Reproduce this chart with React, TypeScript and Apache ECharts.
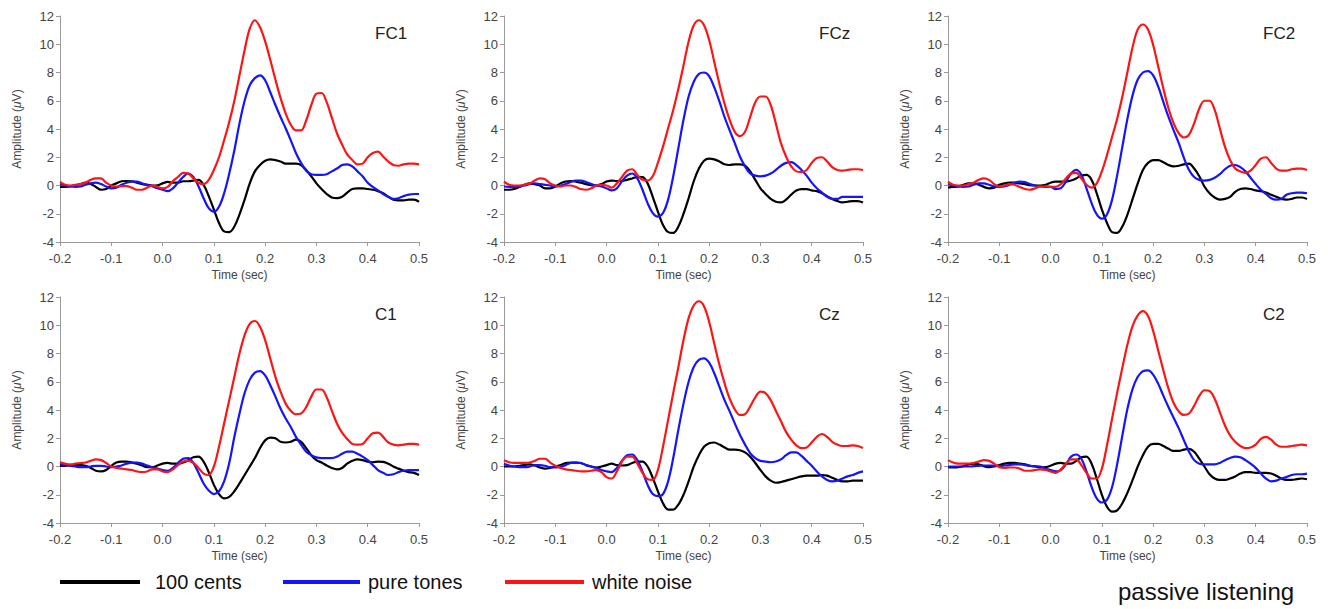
import React, { useEffect, useRef } from "react";
import * as echarts from "echarts";

// time samples (sec)
const timePoints = [
  -0.2, -0.19, -0.18, -0.17, -0.16, -0.15, -0.14, -0.13, -0.12, -0.11,
  -0.1, -0.09, -0.08, -0.07, -0.06, -0.05, -0.04, -0.03, -0.02, -0.01,
  0.0, 0.01, 0.02, 0.03, 0.04, 0.05, 0.06, 0.07, 0.08, 0.09,
  0.1, 0.11, 0.12, 0.13, 0.14, 0.15, 0.16, 0.17, 0.18, 0.19,
  0.2, 0.21, 0.22, 0.23, 0.24, 0.25, 0.26, 0.27, 0.28, 0.29,
  0.3, 0.31, 0.32, 0.33, 0.34, 0.35, 0.36, 0.37, 0.38, 0.39,
  0.4, 0.41, 0.42, 0.43, 0.44, 0.45, 0.46, 0.47, 0.48, 0.49,
  0.5,
];

const seriesNames = ["100 cents", "pure tones", "white noise"];
const panelNames = ["FC1", "FCz", "FC2", "C1", "Cz", "C2"];
const xTicks = [-0.2, -0.1, 0.0, 0.1, 0.2, 0.3, 0.4, 0.5];
const yTicks = [-4, -2, 0, 2, 4, 6, 8, 10, 12];

// FC1
const fc1Cents = [
  -0.1, -0.1, -0.07, 0.02, 0.1, 0.2, 0.1, -0.1, -0.3, -0.25,
  0, 0.15, 0.3, 0.32, 0.3, 0.2, 0.1, 0.05, 0, 0.02,
  0.15, 0.25, 0.2, 0.2, 0.3, 0.3, 0.35, 0.4, 0.05, -0.75,
  -1.7, -2.65, -3.25, -3.3, -2.9, -2.05, -1.0, 0.15, 1.0, 1.45,
  1.75, 1.85, 1.8, 1.7, 1.55, 1.55, 1.55, 1.45, 1.1, 0.65,
  0.15, -0.25, -0.6, -0.85, -0.9, -0.8, -0.5, -0.25, -0.2, -0.2,
  -0.25, -0.3, -0.4, -0.55, -0.8, -1.0, -1.05, -1.05, -1.0, -1.0,
  -1.15,
];
const fc1Tones = [
  0.1, 0, -0.07, -0.1, -0.07, 0.05, 0.15, 0.2, 0.1, -0.07,
  -0.2, -0.15, 0.05, 0.2, 0.28, 0.28, 0.15, 0.05, -0.05, -0.2,
  -0.3, -0.4, -0.2, 0.2, 0.6, 0.85, 0.6, -0.05, -0.9, -1.6,
  -1.85, -1.5, -0.55, 0.85, 2.5, 4.4, 6.0, 7.1, 7.6, 7.8,
  7.45, 6.6, 5.7, 4.85, 4.05, 3.2, 2.3, 1.6, 1.05, 0.8,
  0.75, 0.75, 0.8, 1.0, 1.2, 1.45, 1.5, 1.35, 1.0, 0.65,
  0.2, -0.1, -0.35, -0.6, -0.8, -0.95, -0.9, -0.75, -0.65, -0.6,
  -0.6,
];
const fc1Noise = [
  0.25, 0.05, 0, 0.05, 0.1, 0.2, 0.4, 0.5, 0.5, 0.2,
  0, -0.07, -0.05, -0.05, -0.15, -0.3, -0.3, -0.15, 0, -0.1,
  -0.2, -0.1, 0.3, 0.6, 0.9, 0.85, 0.5, 0.2, 0.1, 0.4,
  1.1, 2.0, 3.2, 4.5, 6.0, 7.8, 9.6, 11.1, 11.7, 11.2,
  10.2, 8.9, 7.5, 6.2, 5.1, 4.3, 3.9, 3.9, 4.6, 5.7,
  6.5, 6.55, 5.9, 4.8, 3.7, 2.9, 2.2, 1.8, 1.5, 1.55,
  2.0, 2.3, 2.4, 2.05, 1.7, 1.45, 1.4, 1.5, 1.55, 1.55,
  1.5,
];

// FCz
const fczCents = [
  -0.3, -0.3, -0.25, -0.1, 0.05, 0.15, 0.1, 0, -0.2, -0.2,
  -0.07, 0.15, 0.28, 0.32, 0.28, 0.2, 0.1, 0.02, 0, 0.1,
  0.28, 0.35, 0.32, 0.32, 0.4, 0.5, 0.6, 0.6, 0.15, -0.8,
  -1.85, -2.8, -3.3, -3.35, -2.9, -2.0, -0.9, 0.3, 1.2, 1.75,
  1.9, 1.85, 1.7, 1.5, 1.45, 1.5, 1.5, 1.4, 1.0, 0.4,
  -0.2, -0.6, -0.95, -1.15, -1.2, -1.0, -0.65, -0.35, -0.25, -0.25,
  -0.35, -0.4, -0.55, -0.75, -0.95, -1.1, -1.2, -1.15, -1.1, -1.1,
  -1.2,
];
const fczTones = [
  -0.07, -0.1, -0.1, -0.07, 0, 0.1, 0.15, 0.1, 0.05, 0,
  -0.07, 0, 0.1, 0.25, 0.35, 0.35, 0.25, 0.1, 0, -0.07,
  -0.2, -0.35, -0.2, 0.3, 0.7, 0.85, 0.5, -0.3, -1.25, -1.95,
  -2.2, -1.95, -1.0, 0.65, 2.65, 4.65, 6.3, 7.35, 7.9, 8.0,
  7.75, 6.95, 5.95, 4.85, 3.9, 3.0, 2.05, 1.35, 0.85, 0.7,
  0.65, 0.7, 0.85, 1.1, 1.4, 1.6, 1.65, 1.45, 1.1, 0.7,
  0.2, -0.2, -0.5, -0.8, -0.95, -0.95, -0.8, -0.8, -0.8, -0.8,
  -0.8,
];
const fczNoise = [
  0.28, 0.05, 0, 0, 0.05, 0.15, 0.35, 0.5, 0.45, 0.15,
  0, -0.07, 0, 0, -0.1, -0.25, -0.3, -0.2, 0, 0.05,
  0, -0.15, 0.15, 0.6, 1.05, 1.15, 0.75, 0.4, 0.35, 0.65,
  1.6, 2.75, 4.05, 5.35, 6.85, 8.5, 10.2, 11.35, 11.7, 11.35,
  10.3, 8.75, 7.2, 5.8, 4.65, 3.8, 3.5, 3.8, 4.85, 5.9,
  6.3, 6.3, 5.7, 4.4, 3.0, 2.05, 1.35, 1.0, 0.95, 1.1,
  1.6, 1.95, 2.0, 1.7, 1.3, 1.1, 1.05, 1.1, 1.15, 1.15,
  1.1,
];

// FC2
const fc2Cents = [
  -0.15, -0.1, -0.07, 0.05, 0.15, 0.15, 0.05, -0.1, -0.2, -0.15,
  0.05, 0.15, 0.2, 0.2, 0.15, 0.1, 0.02, 0, 0, 0.05,
  0.2, 0.28, 0.28, 0.28, 0.35, 0.5, 0.7, 0.75, 0.4, -0.55,
  -1.7, -2.65, -3.3, -3.35, -2.9, -2.05, -0.95, 0.15, 1.1, 1.6,
  1.8, 1.8, 1.65, 1.45, 1.35, 1.4, 1.5, 1.55, 1.2, 0.65,
  -0.07, -0.55, -0.85, -1.0, -0.95, -0.8, -0.45, -0.25, -0.2, -0.25,
  -0.35, -0.4, -0.5, -0.65, -0.8, -0.95, -1.0, -0.95, -0.85, -0.85,
  -0.95,
];
const fc2Tones = [
  0.1, 0, -0.07, -0.1, -0.07, 0.05, 0.15, 0.15, 0.05, -0.07,
  -0.1, -0.07, 0.05, 0.2, 0.28, 0.25, 0.1, 0, -0.07, -0.1,
  -0.1, -0.25, -0.2, 0.28, 0.85, 1.1, 0.75, -0.2, -1.25, -2.05,
  -2.35, -2.05, -1.0, 0.75, 2.75, 4.75, 6.4, 7.5, 8.0, 8.1,
  7.8, 7.0, 5.9, 4.85, 3.9, 3.0, 1.95, 1.1, 0.6, 0.4,
  0.35, 0.4, 0.55, 0.8, 1.15, 1.4, 1.45, 1.3, 1.0, 0.55,
  0.1, -0.3, -0.6, -0.9, -1.0, -0.95, -0.65, -0.55, -0.5, -0.5,
  -0.55,
];
const fc2Noise = [
  0.28, 0.05, 0, 0, 0.1, 0.2, 0.4, 0.5, 0.4, 0.1,
  -0.07, 0, 0.1, 0.05, -0.1, -0.25, -0.3, -0.2, -0.07, -0.07,
  -0.1, -0.1, 0.1, 0.5, 0.85, 0.9, 0.5, 0.05, -0.15, 0.15,
  1.0, 2.15, 3.45, 4.75, 6.3, 8.05, 9.8, 11.05, 11.4, 11.05,
  9.95, 8.4, 6.85, 5.45, 4.4, 3.7, 3.4, 3.6, 4.4, 5.45,
  6.0, 6.0, 5.35, 4.05, 2.75, 1.8, 1.2, 1.0, 0.9, 1.05,
  1.45, 1.9, 2.0, 1.6, 1.2, 1.05, 1.05, 1.15, 1.2, 1.2,
  1.1,
];

// C1
const c1Cents = [
  0.05, 0.05, 0.1, 0.1, 0.1, 0.05, -0.1, -0.3, -0.35, -0.25,
  0.05, 0.28, 0.35, 0.35, 0.28, 0.2, 0.07, -0.05, -0.05, 0.07,
  0.2, 0.25, 0.2, 0.2, 0.28, 0.45, 0.65, 0.7, 0.35, -0.4,
  -1.3, -1.95, -2.25, -2.15, -1.75, -1.2, -0.6, 0, 0.6, 1.3,
  1.85, 2.05, 2.0, 1.75, 1.7, 1.75, 1.9, 1.75, 1.3, 0.8,
  0.45, 0.28, 0.07, -0.1, -0.2, -0.1, 0.2, 0.4, 0.5, 0.45,
  0.35, 0.3, 0.35, 0.33, 0.2, 0, -0.15, -0.3, -0.4, -0.45,
  -0.6,
];
const c1Tones = [
  0.2, 0.1, 0.05, 0, -0.05, -0.05, 0, 0.05, 0.05, 0,
  -0.05, 0, 0.07, 0.2, 0.28, 0.28, 0.2, 0.07, -0.05, -0.15,
  -0.25, -0.3, -0.1, 0.25, 0.55, 0.6, 0.25, -0.45, -1.2, -1.7,
  -1.95, -1.75, -1.05, 0.25, 2.1, 3.75, 5.2, 6.15, 6.65, 6.75,
  6.45, 5.75, 4.95, 4.1, 3.4, 2.8, 2.1, 1.55, 1.05, 0.8,
  0.65, 0.6, 0.6, 0.6, 0.7, 0.9, 1.05, 1.05, 0.9, 0.7,
  0.45, 0.1, -0.25, -0.45, -0.6, -0.55, -0.4, -0.3, -0.25, -0.25,
  -0.25,
];
const c1Noise = [
  0.3, 0.2, 0.15, 0.2, 0.25, 0.28, 0.4, 0.5, 0.45, 0.25,
  0, -0.1, -0.15, -0.2, -0.25, -0.35, -0.4, -0.35, -0.2, -0.2,
  -0.35, -0.4, -0.2, 0.1, 0.35, 0.4, 0.25, -0.1, -0.5, -0.6,
  0, 1.4, 3.05, 4.7, 6.35, 8.0, 9.3, 10.1, 10.3, 9.9,
  8.95, 7.65, 6.35, 5.3, 4.45, 3.95, 3.7, 3.75, 4.2, 4.95,
  5.45, 5.45, 4.9, 3.95, 3.05, 2.4, 1.95, 1.6, 1.55, 1.6,
  2.0, 2.35, 2.4, 2.1, 1.7, 1.55, 1.5, 1.55, 1.6, 1.6,
  1.55,
];

// Cz
const czCents = [
  0, 0, 0, 0.05, 0.1, 0.15, 0.07, -0.07, -0.15, -0.1,
  0, 0.1, 0.25, 0.28, 0.28, 0.25, 0.1, 0, -0.07, 0,
  0.1, 0.2, 0.1, 0.07, 0.1, 0.25, 0.35, 0.35, 0, -0.8,
  -1.75, -2.6, -3.05, -3.05, -2.7, -2.0, -1.05, 0, 0.8, 1.4,
  1.65, 1.7, 1.55, 1.35, 1.2, 1.2, 1.15, 1.0, 0.7, 0.25,
  -0.25, -0.7, -1.0, -1.15, -1.1, -1.0, -0.9, -0.8, -0.7, -0.65,
  -0.65, -0.65, -0.6, -0.65, -0.8, -0.95, -1.05, -1.05, -1.0, -1.0,
  -1.0,
];
const czTones = [
  0.2, 0.07, 0, -0.05, -0.05, 0, 0.1, 0.1, 0.05, -0.05,
  -0.07, 0, 0.1, 0.25, 0.28, 0.25, 0.1, 0, -0.1, -0.25,
  -0.35, -0.4, -0.1, 0.4, 0.8, 0.85, 0.45, -0.35, -1.3, -1.95,
  -2.1, -1.95, -1.05, 0.6, 2.6, 4.45, 6.0, 7.05, 7.55, 7.65,
  7.35, 6.6, 5.65, 4.7, 3.9, 3.05, 2.25, 1.55, 0.95, 0.6,
  0.4, 0.35, 0.3, 0.35, 0.5, 0.8, 1.0, 1.0, 0.75, 0.4,
  0.05, -0.35, -0.7, -0.95, -1.05, -1.0, -0.85, -0.7, -0.6, -0.45,
  -0.35,
];
const czNoise = [
  0.45, 0.3, 0.25, 0.25, 0.25, 0.28, 0.4, 0.55, 0.55, 0.28,
  0.05, -0.1, -0.2, -0.25, -0.3, -0.35, -0.35, -0.3, -0.25, -0.4,
  -0.75, -0.85, -0.35, 0.35, 0.7, 0.7, 0.2, -0.45, -0.9, -0.95,
  -0.25, 1.4, 3.3, 5.2, 7.05, 8.95, 10.5, 11.4, 11.7, 11.35,
  10.25, 8.7, 7.2, 5.9, 4.8, 4.05, 3.65, 3.7, 4.25, 4.9,
  5.3, 5.2, 4.7, 3.95, 3.2, 2.45, 1.9, 1.5, 1.3, 1.35,
  1.7, 2.1, 2.3, 2.1, 1.75, 1.55, 1.45, 1.45, 1.5, 1.45,
  1.3,
];

// C2
const c2Cents = [
  -0.05, -0.07, -0.05, 0.02, 0.15, 0.2, 0.15, 0.02, -0.05, 0,
  0.1, 0.2, 0.25, 0.25, 0.2, 0.15, 0.05, 0, -0.07, -0.05,
  0.05, 0.2, 0.25, 0.2, 0.2, 0.4, 0.65, 0.7, 0.2, -0.85,
  -2.0, -2.85, -3.2, -3.1, -2.6, -1.85, -0.95, 0, 0.8, 1.4,
  1.6, 1.6, 1.45, 1.25, 1.1, 1.1, 1.2, 1.25, 1.05, 0.55,
  0, -0.55, -0.85, -0.95, -0.95, -0.85, -0.7, -0.5, -0.4, -0.4,
  -0.45, -0.45, -0.45, -0.5, -0.65, -0.85, -0.95, -0.95, -0.9, -0.85,
  -0.9,
];
const c2Tones = [
  0, 0, 0, 0, 0, 0.02, 0.05, 0.07, 0.07, 0.05,
  0.02, 0.07, 0.1, 0.15, 0.15, 0.1, 0.05, 0.02, 0, -0.15,
  -0.25, -0.35, -0.25, 0.15, 0.7, 0.85, 0.55, -0.35, -1.45, -2.25,
  -2.55, -2.35, -1.45, 0.2, 2.2, 4.1, 5.5, 6.35, 6.75, 6.8,
  6.5, 5.85, 5.0, 4.2, 3.45, 2.7, 1.85, 1.05, 0.45, 0.2,
  0.15, 0.15, 0.15, 0.25, 0.45, 0.6, 0.7, 0.65, 0.45, 0.2,
  -0.1, -0.5, -0.85, -1.05, -1.0, -0.85, -0.75, -0.6, -0.55, -0.55,
  -0.5,
];
const c2Noise = [
  0.45, 0.28, 0.2, 0.2, 0.2, 0.25, 0.35, 0.45, 0.4, 0.2,
  -0.05, -0.1, -0.07, -0.07, -0.15, -0.3, -0.3, -0.25, -0.2, -0.25,
  -0.35, -0.45, -0.2, 0.2, 0.5, 0.5, 0.1, -0.45, -0.85, -0.85,
  -0.15, 1.5, 3.4, 5.25, 7.0, 8.65, 9.95, 10.7, 11.0, 10.65,
  9.6, 8.2, 6.8, 5.5, 4.5, 3.9, 3.65, 3.75, 4.3, 5.0,
  5.4, 5.35, 4.8, 3.85, 2.9, 2.2, 1.75, 1.45, 1.3, 1.35,
  1.55, 1.95, 2.1, 1.9, 1.55, 1.4, 1.4, 1.45, 1.5, 1.55,
  1.5,
];

const panelData = [
  [fc1Cents, fc1Tones, fc1Noise],
  [fczCents, fczTones, fczNoise],
  [fc2Cents, fc2Tones, fc2Noise],
  [c1Cents, c1Tones, c1Noise],
  [czCents, czTones, czNoise],
  [c2Cents, c2Tones, c2Noise],
];

const FONT = "'Liberation Sans', Arial, Helvetica, sans-serif";
const COLORS = ["#000000", "#1414ff", "#ff1414"];
const AXIS_COLOR = "#9a9a9a";
const LABEL_COLOR = "#444444";

const gridLefts = [60, 504, 948];
const gridTops = [16, 297];
const GRID_W = 359;
const GRID_H = 226;

// legend layout
const legendLefts = [60, 283, 505];
const legendWidths = [80, 77, 79];
const legendTextPad = [10, 3, 3];

export default function App() {
  const ref = useRef<HTMLDivElement>(null);

  useEffect(() => {
    if (!ref.current) return;
    const chart = echarts.init(ref.current, undefined, { renderer: "svg" });

    const grids: any[] = [];
    const xAxes: any[] = [];
    const yAxes: any[] = [];
    const titles: any[] = [];
    const series: any[] = [];

    panelNames.forEach((pn, i) => {
      const left = gridLefts[i % 3];
      const top = gridTops[Math.floor(i / 3)];
      grids.push({ left, top, width: GRID_W, height: GRID_H });
      xAxes.push({
        type: "value",
        gridIndex: i,
        min: xTicks[0],
        max: xTicks[xTicks.length - 1],
        interval: 0.1,
        name: "Time (sec)",
        nameLocation: "middle",
        nameGap: 27,
        nameTextStyle: { fontSize: 12, color: LABEL_COLOR, fontFamily: FONT },
        axisLine: { show: true, onZero: false, lineStyle: { color: AXIS_COLOR, width: 1 } },
        axisTick: { show: true, length: 4, lineStyle: { color: AXIS_COLOR } },
        axisLabel: {
          fontSize: 13,
          color: LABEL_COLOR,
          margin: 10,
          fontFamily: FONT,
          formatter: (v: number) => (Math.abs(v) < 1e-9 ? "0.0" : v.toFixed(1)),
        },
        splitLine: { show: false },
      });
      yAxes.push({
        type: "value",
        gridIndex: i,
        min: yTicks[0],
        max: yTicks[yTicks.length - 1],
        interval: 2,
        name: "{a|Amplitude (}{b|μ}{a|V)}",
        nameLocation: "middle",
        nameGap: 37,
        nameTextStyle: {
          rich: {
            a: { fontSize: 12, color: LABEL_COLOR, fontFamily: FONT },
            b: { fontSize: 12, color: LABEL_COLOR, fontFamily: FONT, fontStyle: "italic" },
          },
        },
        axisLine: { show: true, onZero: false, lineStyle: { color: AXIS_COLOR, width: 1 } },
        axisTick: { show: true, length: 4, lineStyle: { color: AXIS_COLOR } },
        axisLabel: { fontSize: 13, color: LABEL_COLOR, margin: 6, fontFamily: FONT },
        splitLine: { show: false },
      });
      titles.push({
        text: pn,
        left: left + 315,
        top: top + 9,
        padding: 0,
        textStyle: { fontSize: 17, fontWeight: "normal", color: "#222", fontFamily: FONT },
      });
      seriesNames.forEach((sn, k) => {
        series.push({
          type: "line",
          name: sn,
          xAxisIndex: i,
          yAxisIndex: i,
          data: timePoints.map((t, j) => [t, panelData[i][k][j]]),
          showSymbol: false,
          smooth: 0.35,
          lineStyle: { color: COLORS[k], width: 2.2 },
          itemStyle: { color: COLORS[k] },
          silent: true,
          z: 2 + k,
        });
      });
    });

    const legends = seriesNames.map((sn, k) => ({
      data: [sn],
      left: legendLefts[k],
      top: 572,
      padding: 0,
      icon: "rect",
      itemWidth: legendWidths[k],
      itemHeight: 4,
      selectedMode: false,
      textStyle: {
        fontSize: 20,
        color: "#111",
        fontFamily: FONT,
        padding: [0, 0, 0, legendTextPad[k]],
      },
    }));

    chart.setOption({
      animation: false,
      backgroundColor: "#ffffff",
      textStyle: { fontFamily: FONT },
      title: titles,
      grid: grids,
      xAxis: xAxes,
      yAxis: yAxes,
      legend: legends,
      graphic: [
        {
          type: "text",
          left: 1118,
          top: 579,
          style: { text: "passive listening", fontSize: 24, fill: "#111", fontFamily: FONT },
        },
      ],
      series,
    });

    return () => chart.dispose();
  }, []);

  return (
    <div
      ref={ref}
      style={{ position: "fixed", left: 0, top: 0, width: 1328, height: 609, background: "#fff" }}
    />
  );
}
